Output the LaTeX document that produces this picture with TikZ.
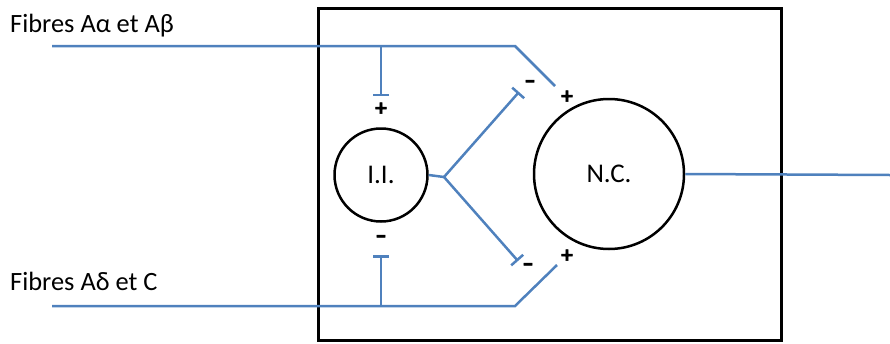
\documentclass[tikz,border=0pt]{standalone}
\usepackage{fontspec}
\setmainfont{Carlito}
\newfontfamily\signfont{Carlito Bold}[FakeBold=2.5]
\usetikzlibrary{arrows.meta}
\usetikzlibrary{positioning}
\definecolor{fibreblue}{RGB}{79,129,189}
\tikzset{fibre/.style={line width=2.5pt,draw=fibreblue},
  inhib/.style={fibre,-{Bar[width=16pt,line width=2.5pt]}},
  cell/.style={circle,draw,line width=2.5pt,inner sep=0pt,font=\fontsize{27}{30}\selectfont},
  sign/.style={font=\signfont\fontsize{23}{26}\selectfont,inner sep=0pt},
  label/.style={anchor=base west,inner sep=0pt,font=\fontsize{26.4}{30}\selectfont}}

\begin{document}
\begin{tikzpicture}[x=1pt,y=-1pt]
\useasboundingbox (0,0) rectangle (890,343);

\draw[line width=3pt] (318,8) rectangle (781,340);
\node (ii) at (381,175) [cell, minimum size=93pt] {I.I.};
\node (nc) at (609,174) [cell, minimum size=150pt] {N.C.};
\node (fab) at (10,32) [label] {Fibres Aα et Aβ};
\node (fdc) at (10,290) [label] {Fibres Aδ et C};

% fibres A alpha / A beta
\coordinate (t0) at (52,46);
\coordinate (t1) at (515,46);
\coordinate (t2) at (555,86);
\coordinate (tb) at (381,46);
\coordinate (tbe) at (381,96);
% fibres A delta / C
\coordinate (b0) at (52,306);
\coordinate (b1) at (515,306);
\coordinate (b2) at (557,265);
\coordinate (bb) at (381,306);
\coordinate (bbe) at (381,255);
% interneurone
\coordinate (fork) at (444,177);
\coordinate (fu) at (519,92);
\coordinate (fd) at (518,261);
\coordinate (out) at (890,175);

\draw[fibre] (t0) -- (t1) -- (t2);
\draw[inhib] (tb) -- (tbe);
\draw[fibre] (b0) -- (b1) -- (b2);
\draw[inhib] (bb) -- (bbe);
\draw[fibre] (ii.east) -- (fork);
\draw[inhib] (fork) -- (fu);
\draw[inhib] (fork) -- (fd);
\draw[fibre] (nc.east) -- (out);

\node (s1) at (381,109) [sign] {+};
\node (s2) at (381,239) [sign] {–};
\node (s3) at (530,84) [sign] {–};
\node (s4) at (567,97) [sign] {+};
\node (s5) at (528,267) [sign] {–};
\node (s6) at (567,256) [sign] {+};
\end{tikzpicture}
\end{document}
